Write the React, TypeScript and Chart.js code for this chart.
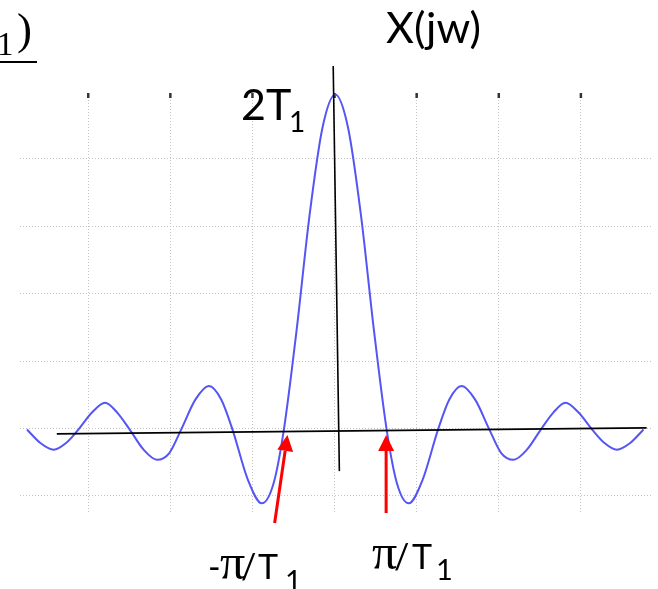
import React, { useEffect, useRef } from "react";
import { Chart, registerables } from "chart.js";

Chart.register(...registerables);

// Frequency axis in units of pi/T1, amplitude in units of 2T1
const omega = [
  -6, -5.74, -5.48, -5.24, -5, -4.74, -4.48, -4.24, -4, -3.73, -3.47, -3.23, -3,
  -2.72, -2.46, -2.22, -2, -1.7, -1.43, -1.2, -1, -0.75, -0.5, -0.25, 0,
  0.25, 0.5, 0.75, 1, 1.2, 1.43, 1.7, 2, 2.22, 2.46, 2.72, 3, 3.23, 3.47, 3.73,
  4, 4.24, 4.48, 4.74, 5, 5.24, 5.48, 5.74, 6,
];
const amplitude = [
  0, -0.04, -0.06, -0.04, 0, 0.05, 0.08, 0.05, 0, -0.06, -0.09, -0.07, 0,
  0.09, 0.13, 0.09, 0, -0.15, -0.22, -0.16, 0, 0.3, 0.64, 0.9, 1,
  0.9, 0.64, 0.3, 0, -0.16, -0.22, -0.15, 0, 0.09, 0.13, 0.09, 0, -0.07, -0.09, -0.06,
  0, 0.05, 0.08, 0.05, 0, -0.04, -0.06, -0.04, 0,
];

// Hand-drawn axes (slightly tilted in the original), data units
const horizAxisX = [-5.42, 6.06];
const horizAxisY = [-0.013, 0.005];
const vertAxisX = [-0.04, 0.08];
const vertAxisY = [1.085, -0.124];

// Arrows pointing at the zero crossings (tail -> tip)
const arrowTailX = [-1.18, 0.99];
const arrowTailY = [-0.279, -0.249];
const arrowTipX = [-0.93, 0.99];
const arrowTipY = [-0.016, -0.016];

// Background grid indices
const gridX = [-3, -2, -1, 0, 1, 2, 3];
const gridY = [0, 1, 2, 3, 4, 5];
const topTickY = 0.997;

function put(ctx: CanvasRenderingContext2D, t: string, f: string, x: number, y: number) {
  ctx.font = f;
  ctx.fillText(t, x, y);
}

const annotations = {
  id: "annotations",
  afterDatasetsDraw(chart: any) {
    const ctx: CanvasRenderingContext2D = chart.ctx;
    const xs = chart.scales.x;
    const ys = chart.scales.y;
    ctx.save();
    // red arrows
    ctx.strokeStyle = "#ff0000";
    ctx.fillStyle = "#ff0000";
    ctx.lineWidth = 3;
    for (let i = 0; i < arrowTailX.length; i++) {
      const x1 = xs.getPixelForValue(arrowTailX[i]);
      const y1 = ys.getPixelForValue(arrowTailY[i]);
      const x2 = xs.getPixelForValue(arrowTipX[i]);
      const y2 = ys.getPixelForValue(arrowTipY[i]);
      const ang = Math.atan2(y2 - y1, x2 - x1);
      const hl = 16;
      const hw = 8;
      const bx = x2 - hl * Math.cos(ang);
      const by = y2 - hl * Math.sin(ang);
      ctx.beginPath();
      ctx.moveTo(x1, y1);
      ctx.lineTo(bx, by);
      ctx.stroke();
      ctx.beginPath();
      ctx.moveTo(x2, y2);
      ctx.lineTo(bx + hw * Math.sin(ang), by - hw * Math.cos(ang));
      ctx.lineTo(bx - hw * Math.sin(ang), by + hw * Math.cos(ang));
      ctx.closePath();
      ctx.fill();
    }
    // texts
    ctx.fillStyle = "#000";
    ctx.textBaseline = "alphabetic";
    ctx.textAlign = "left";
    const big = "43px Lato";
    const mid = "34px Lato";
    const sub = "29px Lato";
    const pi = "50px 'Liberation Serif'";
    put(ctx, "X(jw)", big, 386, 43);
    put(ctx, "2T", big, 241, 120);
    put(ctx, "1", "28px Lato", 289, 132);
    // -pi/T1
    put(ctx, "-", mid, 208, 579);
    put(ctx, "\u03C0", pi, 220, 579);
    put(ctx, "/", mid, 241, 579);
    put(ctx, "T", mid, 258, 579);
    put(ctx, "1", sub, 285, 591);
    // pi/T1
    put(ctx, "\u03C0", pi, 372, 569);
    put(ctx, "/", mid, 394, 569);
    put(ctx, "T", mid, 412, 569);
    put(ctx, "1", sub, 436, 580);
    // cropped formula fragment at top-left
    put(ctx, "1", "33px 'Liberation Serif'", -3, 55);
    put(ctx, ")", "45px 'Liberation Serif'", 17, 44);
    ctx.fillRect(0, 61, 37, 2);
    ctx.restore();
  },
};

export default function App() {
  const ref = useRef<HTMLCanvasElement | null>(null);
  useEffect(() => {
    if (!ref.current) return;
    const curve = omega.map((w, i) => ({ x: w, y: amplitude[i] }));
    const hAxis = horizAxisX.map((x, i) => ({ x, y: horizAxisY[i] }));
    const vAxis = vertAxisX.map((x, i) => ({ x, y: vertAxisY[i] }));
    const ticks = gridX.map((g) => ({ x: g, y: topTickY }));
    const chart = new Chart(ref.current, {
      type: "line",
      data: {
        datasets: [
          {
            data: hAxis,
            borderColor: "#000",
            borderWidth: 1.6,
            pointRadius: 0,
            clip: false as any,
            order: 0,
            xAxisID: "x",
            yAxisID: "y",
          },
          {
            data: vAxis,
            borderColor: "#000",
            borderWidth: 1.6,
            pointRadius: 0,
            clip: false as any,
            order: 0,
            xAxisID: "x",
            yAxisID: "y",
          },
          {
            data: curve,
            borderColor: "rgb(85,85,245)",
            borderWidth: 2,
            pointRadius: 0,
            cubicInterpolationMode: "monotone",
            clip: false as any,
            order: 1,
            xAxisID: "x",
            yAxisID: "y",
          },
          {
            type: "scatter" as any,
            data: ticks,
            showLine: false,
            pointStyle: "line",
            rotation: 90,
            radius: 2.5,
            pointRadius: 2.5,
            borderColor: "#333",
            borderWidth: 2.5,
            clip: false as any,
            order: 2,
            xAxisID: "xg",
            yAxisID: "y",
          } as any,
        ],
      },
      options: {
        responsive: false,
        animation: false,
        devicePixelRatio: 1,
        layout: { padding: { left: 20, right: 5, top: 94, bottom: 76 } },
        plugins: {
          legend: { display: false },
          tooltip: { enabled: false },
          title: { display: false },
        },
        events: [],
        scales: {
          x: { type: "linear", display: false, min: -6.136, max: 6.155 },
          y: { type: "linear", display: false, min: -0.249, max: 1.0015 },
          xg: {
            type: "linear",
            position: "bottom",
            min: -3.831,
            max: 3.86,
            ticks: { display: false },
            border: { display: false, dash: [1, 2] },
            grid: { drawTicks: false, color: "#c4c4c4", lineWidth: 1 },
            afterBuildTicks: (s: any) => {
              s.ticks = gridX.map((v) => ({ value: v }));
            },
          },
          yg: {
            type: "linear",
            position: "left",
            min: -0.252,
            max: 5.956,
            ticks: { display: false },
            border: { display: false, dash: [1, 2] },
            grid: { drawTicks: false, color: "#c4c4c4", lineWidth: 1 },
            afterBuildTicks: (s: any) => {
              s.ticks = gridY.map((v) => ({ value: v }));
            },
          },
        } as any,
      },
      plugins: [annotations],
    });
    return () => chart.destroy();
  }, []);
  return (
    <div style={{ position: "fixed", left: 0, top: 0, width: 658, height: 589, background: "#fff" }}>
      <canvas ref={ref} width={658} height={589} style={{ display: "block" }} />
    </div>
  );
}
